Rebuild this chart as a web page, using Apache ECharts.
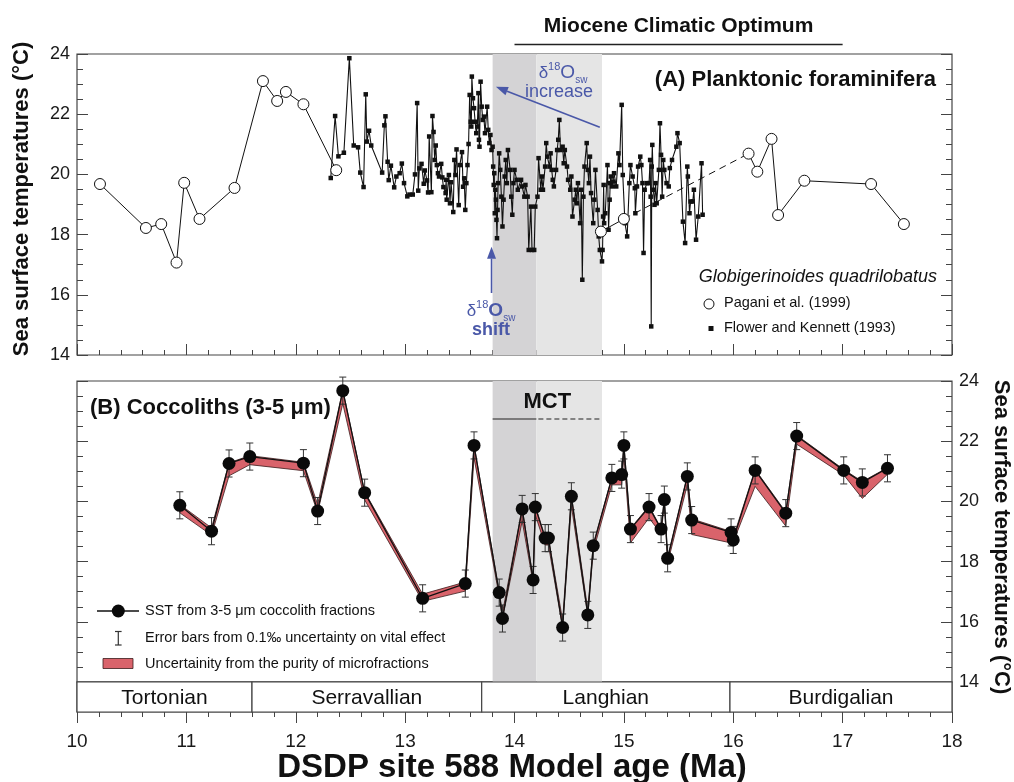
<!DOCTYPE html>
<html><head><meta charset="utf-8">
<script src="https://cdn.jsdelivr.net/npm/echarts/dist/echarts.min.js"></script>
<style>html,body{margin:0;padding:0;background:#fff}#c{width:1014px;height:782px}</style>
</head><body><div id="c"></div>
<script>
// ---------------- DATA ----------------
// Flower and Kennett (1993), G. quadrilobatus SST (age Ma, SST °C)
var flowerAge = [12.32,12.36,12.39,12.44,12.49,12.53,12.57,12.59,12.62,12.64,12.65,12.67,12.69,12.79,12.81,12.82,12.84,12.85,12.87,12.90,12.92,12.95,12.97,12.99,13.02,13.04,13.07,13.09,13.11,13.12,13.13,13.15,13.17,13.18,13.20,13.21,13.22,13.24,13.25,13.26,13.27,13.28,13.29,13.30,13.31,13.33,13.34,13.35,13.37,13.375,13.38,13.40,13.41,13.42,13.44,13.45,13.46,13.47,13.49,13.50,13.52,13.53,13.54,13.55,13.56,13.57,13.58,13.59,13.60,13.605,13.61,13.62,13.63,13.64,13.65,13.66,13.67,13.675,13.68,13.69,13.70,13.71,13.72,13.73,13.75,13.76,13.77,13.78,13.79,13.80,13.805,13.81,13.815,13.82,13.825,13.83,13.835,13.84,13.845,13.85,13.86,13.87,13.88,13.89,13.90,13.91,13.92,13.93,13.94,13.96,13.97,13.98,13.99,14.00,14.02,14.03,14.06,14.07,14.09,14.10,14.12,14.13,14.15,14.16,14.18,14.19,14.21,14.22,14.24,14.25,14.26,14.28,14.29,14.30,14.32,14.33,14.34,14.35,14.36,14.38,14.39,14.40,14.41,14.42,14.44,14.45,14.46,14.48,14.49,14.51,14.52,14.53,14.55,14.56,14.57,14.58,14.60,14.61,14.62,14.63,14.64,14.66,14.67,14.68,14.69,14.70,14.72,14.73,14.74,14.76,14.77,14.78,14.80,14.805,14.81,14.815,14.82,14.83,14.85,14.86,14.87,14.875,14.88,14.89,14.90,14.91,14.93,14.95,14.96,14.98,14.99,15.01,15.03,15.05,15.06,15.08,15.10,15.105,15.12,15.13,15.15,15.16,15.17,15.18,15.19,15.21,15.23,15.24,15.245,15.25,15.255,15.26,15.27,15.28,15.29,15.30,15.32,15.33,15.34,15.35,15.36,15.37,15.39,15.41,15.42,15.44,15.48,15.49,15.51,15.54,15.56,15.58,15.585,15.60,15.61,15.63,15.64,15.66,15.68,15.71,15.72];
var flowerSST = [19.88,21.94,20.60,20.72,23.86,20.96,20.90,20.06,19.58,22.66,21.09,21.45,20.96,20.06,21.63,21.93,20.42,19.81,20.29,19.57,19.93,20.04,20.36,19.71,19.27,19.33,19.33,20.00,22.37,19.46,20.20,20.35,19.69,20.13,19.80,19.40,21.26,19.41,21.94,21.41,20.48,20.96,20.31,20.04,19.93,20.35,19.90,19.58,19.38,19.82,19.16,19.98,19.04,19.74,18.75,20.48,19.98,20.83,18.98,20.31,20.74,19.59,19.87,18.82,19.71,20.31,21.01,22.64,21.75,21.59,23.25,22.53,22.20,21.75,21.37,21.59,22.70,21.15,20.92,23.08,22.25,21.81,21.92,21.37,22.25,21.48,21.04,21.31,20.81,20.92,20.26,19.65,20.04,18.71,19.49,19.16,18.49,17.88,18.82,19.71,20.70,20.15,19.26,18.27,19.16,19.93,20.48,19.71,20.81,20.15,19.26,18.66,19.71,20.15,19.82,19.49,19.82,19.60,19.26,19.65,19.26,17.49,18.93,17.49,17.49,18.93,19.26,20.54,19.49,19.93,19.49,20.26,21.04,20.59,20.26,20.70,20.15,19.82,19.60,20.15,20.81,21.15,21.81,20.81,20.92,20.37,20.81,20.26,19.82,19.49,19.93,18.60,19.16,19.49,19.04,19.71,18.38,19.49,16.50,19.26,20.26,21.04,20.15,19.71,20.59,19.38,18.38,19.16,20.15,18.82,17.94,17.49,17.11,17.49,18.60,19.65,18.38,18.71,20.31,18.16,19.16,19.71,19.93,19.60,19.76,20.04,19.60,20.70,20.31,22.31,19.98,18.38,17.94,19.71,20.31,19.93,19.54,18.71,19.60,20.26,20.59,20.31,19.71,17.39,19.49,19.71,19.71,20.48,19.26,14.95,20.26,20.98,19.49,18.99,19.71,19.04,20.15,21.70,20.65,19.26,20.48,20.15,19.71,19.60,20.21,20.48,20.92,21.37,21.04,18.43,17.72,20.26,19.93,18.71,19.10,19.10,19.49,17.83,18.60,20.37,18.66];

// Pagani et al. (1999)
var paganiAge = [10.21,10.63,10.77,10.91,10.98,11.12,11.44,11.70,11.83,11.91,12.07,12.37,14.79,15.00,16.14,16.22,16.35,16.41,16.65,17.26,17.56];
var paganiSST = [19.68,18.22,18.35,17.07,19.72,18.52,19.55,23.10,22.44,22.74,22.33,20.14,18.10,18.52,20.69,20.09,21.18,18.65,19.79,19.68,18.35];
var paganiBreakAfter = [11, 13];   // no solid line after these indices
var paganiDashed = [13, 14];       // dashed link between these indices

// Coccoliths (3-5 um)
var coccoAge = [10.94,11.23,11.39,11.58,12.07,12.20,12.43,12.63,13.16,13.55,13.63,13.86,13.89,14.07,14.17,14.19,14.28,14.31,14.44,14.52,14.67,14.72,14.89,14.98,15.00,15.06,15.23,15.34,15.37,15.40,15.58,15.62,15.98,16.00,16.20,16.48,16.58,17.01,17.18,17.41];
var coccoSST = [19.87,19.01,21.26,21.49,21.27,19.68,23.68,20.29,16.78,17.27,21.86,16.97,16.11,19.75,17.39,19.81,18.78,18.78,15.81,20.17,16.23,18.53,20.78,20.89,21.86,19.08,19.81,19.08,20.06,18.11,20.83,19.38,18.97,18.72,21.03,19.61,22.17,21.03,20.63,21.10];
var coccoErr = [0.45,0.45,0.45,0.45,0.45,0.45,0.45,0.45,0.45,0.45,0.45,0.45,0.45,0.45,0.45,0.45,0.45,0.45,0.45,0.45,0.45,0.45,0.45,0.45,0.45,0.45,0.45,0.45,0.45,0.45,0.45,0.45,0.45,0.45,0.45,0.45,0.45,0.45,0.45,0.45];
var coccoBandLow  = [19.62,18.88,20.85,21.22,21.02,19.62,23.25,20.05,16.68,17.02,21.45,16.85,16.10,19.35,17.30,19.55,18.55,18.55,15.80,19.85,16.20,18.35,20.55,20.55,21.50,18.62,19.45,18.92,19.90,17.95,20.55,18.90,18.62,18.65,20.50,19.18,21.90,20.88,20.10,20.90];
var coccoBandHigh = [19.90,19.12,21.28,21.52,21.30,19.90,23.70,20.32,16.92,17.32,21.88,17.00,16.30,19.78,17.45,19.85,18.82,18.80,16.05,20.20,16.40,18.58,20.80,20.92,21.90,19.10,19.85,19.10,20.10,18.15,20.86,19.42,19.00,18.80,21.06,19.65,22.20,21.06,20.66,21.12];

// Shaded intervals (Ma)
var shadeStart = [13.8, 14.2];
var shadeEnd   = [14.2, 14.8];

// Stages
var stageNames = ['Tortonian','Serravallian','Langhian','Burdigalian'];
var stageStart = [10, 11.6, 13.7, 15.97];
var stageEnd   = [11.6, 13.7, 15.97, 18];

// Annotated intervals (Ma)
var mcoInterval = [14.0, 17.0];
var mctSolid = [13.8, 14.2];
var mctDashed = [14.2, 14.8];

// Axis ranges / ticks
var ageMin = 10, ageMax = 18, ageStep = 1;
var sstMin = 14, sstMax = 24, sstStep = 2;

// ---------------- STYLE ----------------
var FONT = 'Liberation Sans, Arial, Helvetica, sans-serif';
var AX = '#444';
var BLUE = '#4a58a8';
var RED = '#d9636b';

var flowerData = flowerAge.map(function(a, i){ return [a, flowerSST[i]]; });
var paganiSolid = [];
paganiAge.forEach(function(a, i){
  paganiSolid.push([a, paganiSST[i]]);
  if (paganiBreakAfter.indexOf(i) >= 0 && i < paganiAge.length - 1) {
    paganiSolid.push([(a + paganiAge[i+1]) / 2, '-']);
  }
});
var paganiDash = paganiDashed.map(function(i){ return [paganiAge[i], paganiSST[i]]; });
var coccoData = coccoAge.map(function(a, i){ return [a, coccoSST[i]]; });
var errData = coccoAge.map(function(a, i){ return [a, coccoSST[i] - coccoErr[i], coccoSST[i] + coccoErr[i]]; });
var stageData = stageNames.map(function(n, i){ return [stageStart[i], stageEnd[i], (stageStart[i] + stageEnd[i]) / 2]; });
var shadeAreas = shadeStart.map(function(s, i){
  return [{xAxis: s, itemStyle: {color: i === 0 ? '#d4d3d5' : '#e5e5e5'}}, {xAxis: shadeEnd[i]}];
});

function xAx(grid, opts){
  return Object.assign({
    type: 'value', gridIndex: grid, min: ageMin, max: ageMax, interval: ageStep,
    axisLine: {show: false}, splitLine: {show: false},
    axisTick: {show: false}, minorTick: {show: false}, axisLabel: {show: false}
  }, opts || {});
}
function yAx(grid, pos, opts){
  return Object.assign({
    type: 'value', gridIndex: grid, position: pos, min: sstMin, max: sstMax, interval: sstStep,
    axisLine: {show: false}, splitLine: {show: false},
    axisTick: {show: true, inside: true, length: 11, lineStyle: {color: AX, width: 1}},
    minorTick: {show: true, splitNumber: 4, length: 6, lineStyle: {color: AX, width: 1}},
    axisLabel: {show: false}
  }, opts || {});
}
var ylab = {show: true, fontSize: 18, color: '#1a1a1a', fontFamily: FONT, margin: 7};

var option = {
  animation: false,
  backgroundColor: '#fff',
  textStyle: {fontFamily: FONT},
  grid: [
    {left: 77, right: 62, top: 54, height: 301, show: true, borderColor: AX, borderWidth: 1.2, backgroundColor: 'transparent'},
    {left: 77, right: 62, top: 381, height: 301, show: true, borderColor: AX, borderWidth: 1.2, backgroundColor: 'transparent'},
    {left: 77, right: 62, top: 682, height: 30, show: true, borderColor: AX, borderWidth: 1.2, backgroundColor: 'transparent'}
  ],
  xAxis: [
    xAx(0, {axisTick: {show: true, inside: true, length: 11, lineStyle: {color: AX}}, minorTick: {show: true, splitNumber: 5, length: 5, lineStyle: {color: AX}}}),
    xAx(1),
    xAx(2, {axisTick: {show: true, inside: false, length: 11, lineStyle: {color: AX}}, minorTick: {show: true, splitNumber: 5, length: 5, lineStyle: {color: AX}},
            axisLabel: {show: true, fontSize: 19, color: '#1a1a1a', fontFamily: FONT, margin: 20}})
  ],
  yAxis: [
    yAx(0, 'left', {axisLabel: ylab}),
    yAx(0, 'right'),
    yAx(1, 'left'),
    yAx(1, 'right', {axisLabel: ylab}),
    {type: 'value', gridIndex: 2, min: 0, max: 1, show: false}
  ],
  series: [
    {type: 'line', xAxisIndex: 0, yAxisIndex: 0, data: [], markArea: {silent: true, data: shadeAreas}, z: 0},
    {type: 'line', xAxisIndex: 1, yAxisIndex: 2, data: [], markArea: {silent: true, data: shadeAreas}, z: 0},
    {type: 'line', name: 'Flower and Kennett (1993)', xAxisIndex: 0, yAxisIndex: 0, data: flowerData,
     symbol: 'rect', symbolSize: 4.5, showAllSymbol: true, lineStyle: {color: '#111', width: 1.1}, itemStyle: {color: '#111'}, z: 3},
    {type: 'line', xAxisIndex: 0, yAxisIndex: 0, data: paganiDash, symbol: 'none',
     lineStyle: {color: '#111', width: 1, type: [7, 5]}, z: 4},
    {type: 'line', name: 'Pagani et al. (1999)', xAxisIndex: 0, yAxisIndex: 0, data: paganiSolid, connectNulls: false,
     symbol: 'circle', symbolSize: 11, showAllSymbol: true, lineStyle: {color: '#111', width: 1},
     itemStyle: {color: '#fff', borderColor: '#111', borderWidth: 1}, z: 5},
    {type: 'custom', xAxisIndex: 1, yAxisIndex: 2, data: [[coccoAge[0], coccoSST[0]]], z: 3,
     renderItem: function(params, api){
       var pts = [], i;
       for (i = 0; i < coccoAge.length; i++) pts.push(api.coord([coccoAge[i], coccoBandHigh[i]]));
       for (i = coccoAge.length - 1; i >= 0; i--) pts.push(api.coord([coccoAge[i], coccoBandLow[i]]));
       return {type: 'polygon', shape: {points: pts}, style: {fill: RED, stroke: '#3a1c1c', lineWidth: 0.8}};
     }},
    {type: 'custom', xAxisIndex: 1, yAxisIndex: 2, data: errData, z: 4,
     renderItem: function(params, api){
       var lo = api.coord([api.value(0), api.value(1)]);
       var hi = api.coord([api.value(0), api.value(2)]);
       var c = 3.5, st = {stroke: '#333', lineWidth: 1};
       return {type: 'group', children: [
         {type: 'line', shape: {x1: lo[0], y1: lo[1], x2: hi[0], y2: hi[1]}, style: st},
         {type: 'line', shape: {x1: lo[0]-c, y1: lo[1], x2: lo[0]+c, y2: lo[1]}, style: st},
         {type: 'line', shape: {x1: hi[0]-c, y1: hi[1], x2: hi[0]+c, y2: hi[1]}, style: st}
       ]};
     }},
    {type: 'line', name: 'SST coccoliths', xAxisIndex: 1, yAxisIndex: 2, data: coccoData,
     symbol: 'circle', symbolSize: 13, showAllSymbol: true, lineStyle: {color: '#111', width: 1.3},
     itemStyle: {color: '#0a0a0a'}, z: 5},
    {type: 'custom', xAxisIndex: 2, yAxisIndex: 4, data: stageData, z: 2,
     renderItem: function(params, api){
       var s = api.coord([api.value(0), 1]);
       var e = api.coord([api.value(1), 0]);
       var m = api.coord([api.value(2), 0.5]);
       return {type: 'group', children: [
         {type: 'rect', shape: {x: s[0], y: s[1], width: e[0]-s[0], height: e[1]-s[1]}, style: {fill: '#fff', stroke: AX, lineWidth: 1.2}},
         {type: 'text', style: {text: stageNames[params.dataIndex], x: m[0], y: m[1] + 1, align: 'center', verticalAlign: 'middle',
           fontSize: 21, fontFamily: FONT, fill: '#111'}}
       ]};
     }}
  ]
};

var chart = echarts.init(document.getElementById('c'));
chart.setOption(option);

function P(g, x, y){ return chart.convertToPixel({gridIndex: g}, [x, y]); }
function arrow(p0, p1, color){
  var dx = p1[0]-p0[0], dy = p1[1]-p0[1], L = Math.sqrt(dx*dx+dy*dy), ux = dx/L, uy = dy/L;
  var hl = 12, hw = 4.5, bx = p1[0]-ux*hl, by = p1[1]-uy*hl;
  return [
    {type: 'line', shape: {x1: p0[0], y1: p0[1], x2: bx, y2: by}, style: {stroke: color, lineWidth: 1.6}},
    {type: 'polygon', shape: {points: [[p1[0], p1[1]], [bx-uy*hw, by+ux*hw], [bx+uy*hw, by-ux*hw]]}, style: {fill: color}}
  ];
}
function txt(x, y, text, opts){
  return {type: 'text', x: x, y: y, z: 20, style: Object.assign({text: text, fontFamily: FONT, fontSize: 15, fill: '#111',
    align: 'left', verticalAlign: 'middle'}, opts || {})};
}
function deltaRich(bold){
  var w = bold ? 'bold' : 'normal';
  return {
    d: {fontSize: 17, lineHeight: 24, fontFamily: FONT, fill: BLUE},
    sup: {fontSize: 11, lineHeight: 11, verticalAlign: 'top', fontFamily: FONT, fill: BLUE},
    o: {fontSize: 19, lineHeight: 24, fontWeight: w, fontFamily: FONT, fill: BLUE},
    sub: {fontSize: 10, lineHeight: 10, verticalAlign: 'bottom', fontFamily: FONT, fill: BLUE}
  };
}

var g = [];
// axis titles
g.push({type: 'text', x: 22, y: 199, rotation: Math.PI/2, z: 20,
  style: {text: 'Sea surface temperatures (°C)', fontFamily: FONT, fontSize: 22, fontWeight: 'bold', fill: '#111', align: 'center', verticalAlign: 'middle'}});
g.push({type: 'text', x: 1001, y: 537, rotation: -Math.PI/2, z: 20,
  style: {text: 'Sea surface temperatures (°C)', fontFamily: FONT, fontSize: 22, fontWeight: 'bold', fill: '#111', align: 'center', verticalAlign: 'middle'}});
g.push(txt(512, 768, 'DSDP site 588 Model age (Ma)', {fontSize: 33, fontWeight: 'bold', align: 'center'}));

// Miocene Climatic Optimum
var m0 = P(0, mcoInterval[0], 24), m1 = P(0, mcoInterval[1], 24);
g.push({type: 'line', shape: {x1: m0[0], y1: 44.5, x2: m1[0], y2: 44.5}, style: {stroke: '#222', lineWidth: 1.5}, z: 20});
g.push(txt((m0[0]+m1[0])/2, 26, 'Miocene Climatic Optimum', {fontSize: 21, fontWeight: 'bold', align: 'center'}));

// Panel titles
g.push(txt(936, 80, '(A) Planktonic foraminifera', {fontSize: 22, fontWeight: 'bold', align: 'right'}));
g.push(txt(90, 408, '(B) Coccoliths (3-5 \u03bcm)', {fontSize: 22, fontWeight: 'bold'}));

// MCT
var a0 = P(1, mctSolid[0], 22), a1 = P(1, mctSolid[1], 22), a2 = P(1, mctDashed[1], 22);
g.push({type: 'line', shape: {x1: a0[0], y1: 419, x2: a1[0], y2: 419}, style: {stroke: '#222', lineWidth: 1.2}, z: 20});
g.push({type: 'line', shape: {x1: a1[0]+2, y1: 419, x2: a2[0], y2: 419}, style: {stroke: '#222', lineWidth: 1.2, lineDash: [5, 3]}, z: 20});
g.push(txt((a0[0]+a2[0])/2, 402, 'MCT', {fontSize: 22, fontWeight: 'bold', align: 'center'}));

// blue annotations
arrow(P(0, 14.78, 21.57), P(0, 13.83, 22.91), BLUE).forEach(function(e){ e.z = 20; g.push(e); });
arrow(P(0, 13.79, 16.06), P(0, 13.79, 17.60), BLUE).forEach(function(e){ e.z = 20; g.push(e); });
g.push({type: 'text', x: 563, y: 73, z: 20, style: {text: '{d|\u03b4}{sup|18}{o|O}{sub|sw}', rich: deltaRich(false), align: 'center', verticalAlign: 'middle'}});
g.push(txt(559, 92, 'increase', {fontSize: 18, fill: BLUE, align: 'center'}));
g.push({type: 'text', x: 491, y: 311, z: 20, style: {text: '{d|\u03b4}{sup|18}{o|O}{sub|sw}', rich: deltaRich(true), align: 'center', verticalAlign: 'middle'}});
g.push(txt(491, 330, 'shift', {fontSize: 18, fontWeight: 'bold', fill: BLUE, align: 'center'}));

// top legend
g.push(txt(937, 277, 'Globigerinoides quadrilobatus', {fontSize: 18, fontStyle: 'italic', align: 'right'}));
g.push({type: 'circle', shape: {cx: 709, cy: 304, r: 5}, style: {fill: '#fff', stroke: '#111', lineWidth: 1}, z: 20});
g.push(txt(724, 303, 'Pagani et al. (1999)', {fontSize: 14.5}));
g.push({type: 'rect', shape: {x: 708.5, y: 326, width: 5, height: 5}, style: {fill: '#111'}, z: 20});
g.push(txt(724, 328, 'Flower and Kennett (1993)', {fontSize: 14.5}));

// bottom legend
g.push({type: 'line', shape: {x1: 97, y1: 611, x2: 139, y2: 611}, style: {stroke: '#111', lineWidth: 1.3}, z: 20});
g.push({type: 'circle', shape: {cx: 118.3, cy: 611, r: 6.5}, style: {fill: '#0a0a0a'}, z: 21});
g.push(txt(145, 611, 'SST from 3-5 \u03bcm coccolith fractions', {fontSize: 14.5}));
g.push({type: 'line', shape: {x1: 118.3, y1: 631.5, x2: 118.3, y2: 645}, style: {stroke: '#333', lineWidth: 1.2}, z: 20});
g.push({type: 'line', shape: {x1: 115, y1: 631.5, x2: 121.6, y2: 631.5}, style: {stroke: '#333', lineWidth: 1.2}, z: 20});
g.push({type: 'line', shape: {x1: 115, y1: 645, x2: 121.6, y2: 645}, style: {stroke: '#333', lineWidth: 1.2}, z: 20});
g.push(txt(145, 638, 'Error bars from 0.1\u2030 uncertainty on vital effect', {fontSize: 14.5}));
g.push({type: 'rect', shape: {x: 103, y: 658.5, width: 30, height: 10}, style: {fill: RED, stroke: '#3a1c1c', lineWidth: 0.8}, z: 20});
g.push(txt(145, 663.5, 'Uncertainity from the purity of microfractions', {fontSize: 14.5}));

chart.setOption({graphic: g});
</script>
</body></html>
